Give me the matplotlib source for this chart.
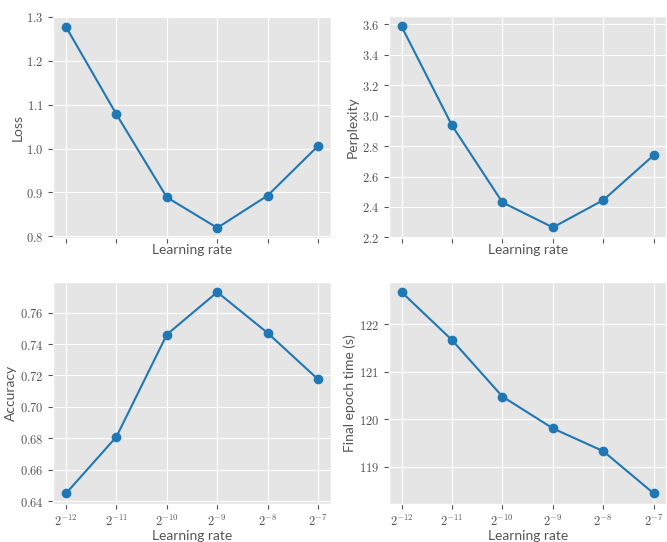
import numpy as np
import matplotlib
matplotlib.use('Agg')
import matplotlib.pyplot as plt
from matplotlib.ticker import FuncFormatter, NullLocator

plt.style.use('ggplot')
plt.rcParams['mathtext.fontset'] = 'cm'
plt.rcParams['font.family'] = ['Lato', 'DejaVu Sans']

# learning rates as powers of two
lr_exp = [-12, -11, -10, -9, -8, -7]
loss = [1.277, 1.078, 0.889, 0.8195, 0.893, 1.006]
perplexity = [3.585, 2.935, 2.43, 2.266, 2.445, 2.74]
accuracy = [0.645, 0.681, 0.746, 0.773, 0.747, 0.7175]
epoch_time = [122.68, 121.67, 120.48, 119.81, 119.33, 118.44]

lr = [2.0 ** e for e in lr_exp]

fig, axes = plt.subplots(2, 2, figsize=(6.67, 5.42), dpi=100)
fig.subplots_adjust(left=0.08, right=0.999, bottom=0.071, top=0.97,
                    wspace=0.21, hspace=0.2)

panels = [(loss, 'Loss', 1, (0.797, 1.301)),
          (perplexity, 'Perplexity', 1, (2.198, 3.652)),
          (accuracy, 'Accuracy', 2, None),
          (epoch_time, 'Final epoch time (s)', 0, None)]

for i, (ax, (vals, name, dec, lim)) in enumerate(zip(axes.flat, panels)):
    ax.plot(lr, vals, marker='o', color='#1f77b4', markersize=6, lw=1.5)
    ax.set_xscale('log', base=2)
    ax.set_xticks(lr)
    ax.xaxis.set_minor_locator(NullLocator())
    ax.set_xticklabels(['$2^{%d}$' % e for e in lr_exp])
    if i < 2:
        ax.tick_params(axis='x', labelbottom=False)
    if lim is not None:
        ax.set_ylim(*lim)
    ax.yaxis.set_major_formatter(FuncFormatter(lambda v, p, d=dec: '$%.*f$' % (d, v)))
    ax.set_ylabel(name, fontsize=10, color='#555555', labelpad=2)
    ax.set_xlabel('Learning rate', fontsize=10, color='#555555', labelpad=1)
    ax.tick_params(labelsize=9, colors='#555555')

fig.savefig('out.png')
